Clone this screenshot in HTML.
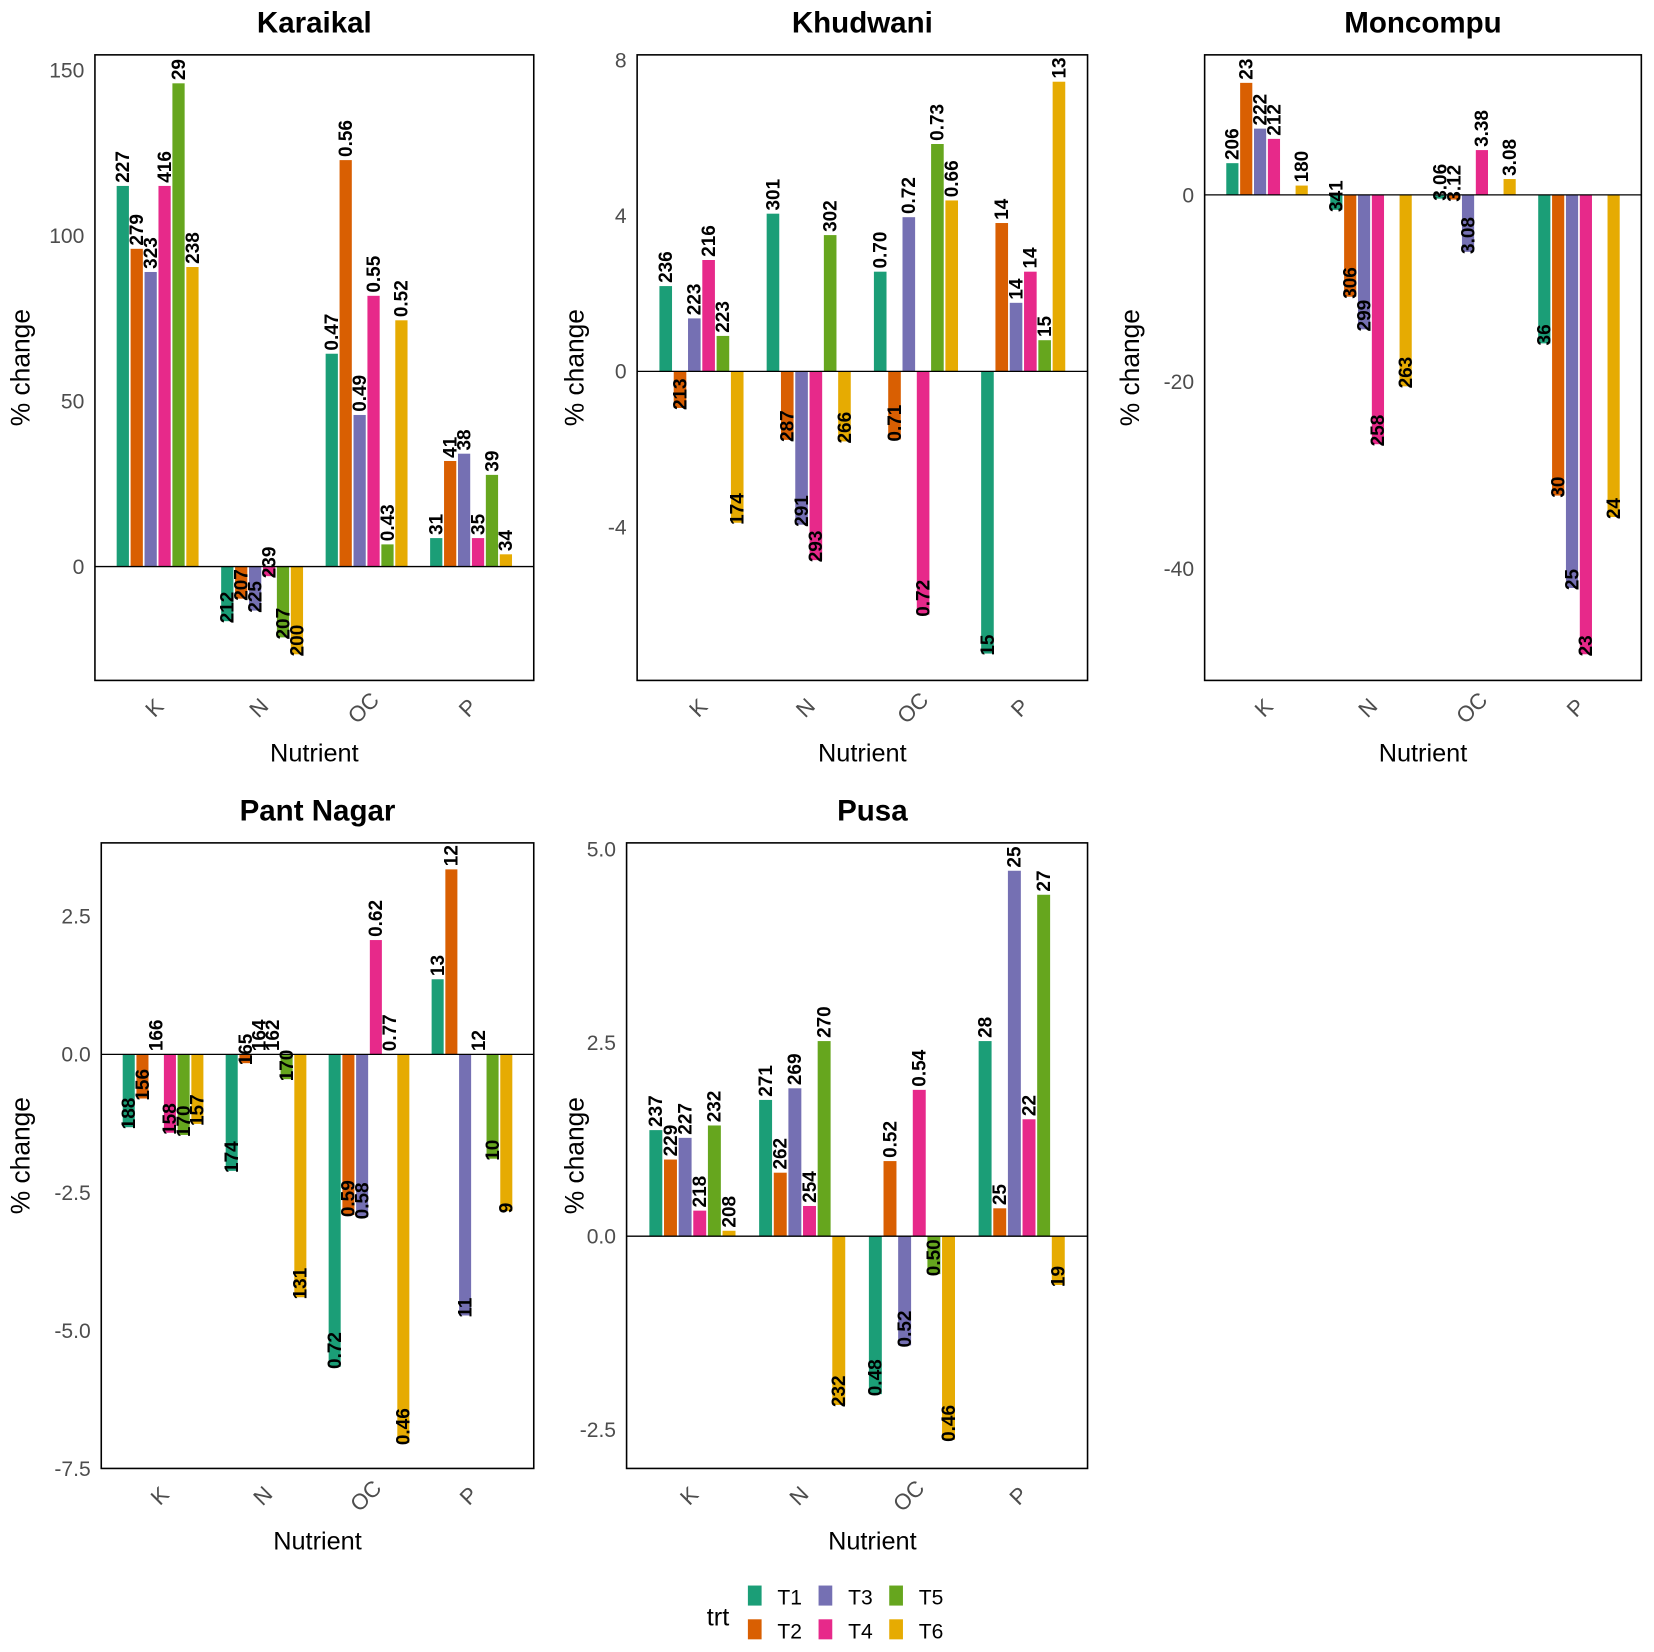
<!DOCTYPE html>
<html><head><meta charset="utf-8"><style>
html,body{margin:0;padding:0;background:#fff;}
svg{display:block;}
text{font-family:"Liberation Sans",Arial,sans-serif;}
</style></head><body>
<svg id="fig" width="1654" height="1652" viewBox="0 0 1568 1566" preserveAspectRatio="none" xmlns="http://www.w3.org/2000/svg"></svg>
<script>
const categories = ["K","N","OC","P"];
const treatments = ["T1","T2","T3","T4","T5","T6"];
const colors = ["#1B9E77","#D95F02","#7570B3","#E7298A","#66A61E","#E6AB02"];

const karaikalValues = [[115,96,89,115,146,90.5],[-16.5,-9.7,-13.3,-2.9,-21.4,-26.5],[64.3,122.8,45.8,81.8,6.7,74.4],[8.6,31.9,34.1,8.6,27.7,3.7]];
const karaikalLabels = [["227","279","323","416","29","238"],["212","207","225","239","207","200"],["0.47","0.56","0.49","0.55","0.43","0.52"],["31","41","38","35","39","34"]];
const karaikalTicks = [0,50,100,150];

const khudwaniValues = [[2.19,-0.94,1.36,2.86,0.91,-3.89],[4.05,-1.76,-3.94,-4.85,3.5,-1.8],[2.56,-1.75,3.96,-6.25,5.84,4.39],[-7.25,3.81,1.76,2.56,0.8,7.44]];
const khudwaniLabels = [["236","213","223","216","223","174"],["301","287","291","293","302","266"],["0.70","0.71","0.72","0.72","0.73","0.66"],["15","14","14","14","15","13"]];
const khudwaniTicks = [-4,0,4,8];

const moncompuValues = [[3.4,12.0,7.1,6.0,null,1.0],[-1.6,-10.9,-14.4,-26.7,null,-20.5],[-0.4,-0.5,-6.1,4.8,null,1.7],[-15.9,-32.2,-42.1,-49.2,null,-34.5]];
const moncompuLabels = [["206","23","222","212","","180"],["341","306","299","258","","263"],["3.06","3.12","3.08","3.38","","3.08"],["36","30","25","23","","24"]];
const moncompuTicks = [-40,-20,0];

const pantValues = [[-1.32,-0.80,0,-1.42,-1.46,-1.26],[-2.11,-0.16,0,0,-0.45,-4.4],[-5.66,-2.91,-2.95,2.07,0,-7.04],[1.36,3.35,-4.73,0,-1.89,-2.84]];
const pantLabels = [["188","156","166","158","170","157"],["174","165","164","162","170","131"],["0.72","0.59","0.58","0.62","0.77","0.46"],["13","12","11","12","10","9"]];
const pantTicks = [-7.5,-5.0,-2.5,0.0,2.5];
const pantTickText = ["-7.5","-5.0","-2.5","0.0","2.5"];

const pusaValues = [[1.37,0.99,1.27,0.33,1.43,0.07],[1.76,0.82,1.91,0.39,2.52,-2.18],[-2.04,0.97,-1.41,1.89,-0.49,-2.63],[2.52,0.36,4.72,1.51,4.41,-0.63]];
const pusaLabels = [["237","229","227","218","232","208"],["271","262","269","254","270","232"],["0.48","0.52","0.52","0.54","0.50","0.46"],["28","25","25","22","27","19"]];
const pusaTicks = [-2.5,0.0,2.5,5.0];
const pusaTickText = ["-2.5","0.0","2.5","5.0"];

const NS="http://www.w3.org/2000/svg";
const svg=document.getElementById('fig');
function mk(tag,attrs,parent){const e=document.createElementNS(NS,tag);for(const k in attrs)e.setAttribute(k,attrs[k]);(parent||svg).appendChild(e);return e;}

function panel(cfg){
  const g=mk('g',{});
  
  
  const {x0,x1,y0,y1,ymin,ymax}=cfg;
  const yS=v=>y1-(v-ymin)/(ymax-ymin)*(y1-y0);
  const step=(x1-x0)/4.2;
  const xC=i=>x0+step*(0.6+i);
  const bw=step*0.8/6;
  const t=mk('text',{x:cfg.titleX||(x0+x1)/2,y:y0-21,'text-anchor':'middle','font-size':28,'font-weight':'bold',fill:'#000'},g);
  t.textContent=cfg.title;
  
  
  cfg.ticks.forEach((v,i)=>{
    const tt=mk('text',{x:x0-10,y:yS(v)+7,'text-anchor':'end','font-size':20,fill:'#4d4d4d'},g);
    tt.textContent=cfg.tickText?cfg.tickText[i]:String(v);
    
    
  });
  cfg.values.forEach((row,ci)=>{
    row.forEach((v,ti)=>{
      if(v===null)return;
      const bx=xC(ci)-step*0.4+ti*bw;
      const yt=yS(Math.max(v,0)), yb=yS(Math.min(v,0));
      const r=mk('rect',{x:bx+0.8,y:yt,width:bw-1.6,height:Math.max(yb-yt,0),fill:colors[ti]},g);
      
      
      const lab=cfg.labels[ci][ti];
      if(lab){
        const ly=yS(v)-(v>=0?3:-2);
        const cx=bx+bw/2+6;
        const tx=mk('text',{x:cx,y:ly,transform:`rotate(-90 ${cx} ${ly})`,'font-size':18,'font-weight':'bold',fill:'#000','text-anchor':'start'},g);
        tx.textContent=lab;
        
        
      }
    });
  });
  const z=mk('line',{x1:x0,x2:x1,y1:yS(0),y2:yS(0),stroke:'#000','stroke-width':1.2},g);
  
  
  const fr=mk('rect',{x:x0,y:y0,width:x1-x0,height:y1-y0,fill:'none',stroke:'#000','stroke-width':1.5},g);
  
  
  categories.forEach((c,i)=>{
    const cx=xC(i)+2, cy=y1+31;
    const tx=mk('text',{x:cx,y:cy,transform:`rotate(-45 ${cx} ${cy})`,'text-anchor':'middle','font-size':21,fill:'#4d4d4d'},g);
    tx.textContent=c;
    
    
  });
  const xt=mk('text',{x:cfg.titleX||(x0+x1)/2,y:y1+77,'text-anchor':'middle','font-size':24,fill:'#000'},g);
  xt.textContent='Nutrient';
  
  
  const ax=cfg.ytx, ay=(y0+y1)/2;
  const yt=mk('text',{x:ax,y:ay,transform:`rotate(-90 ${ax} ${ay})`,'text-anchor':'middle','font-size':25,fill:'#000'},g);
  yt.textContent='% change';
  
  
}

panel({id:'karaikal',title:'Karaikal',x0:90,x1:506,y0:52,y1:645,ymin:-34.4,ymax:154.6,ticks:karaikalTicks,values:karaikalValues,labels:karaikalLabels,ytx:28});
panel({id:'khudwani',title:'Khudwani',x0:604,x1:1031,y0:52,y1:645,ymin:-7.94,ymax:8.13,ticks:khudwaniTicks,values:khudwaniValues,labels:khudwaniLabels,ytx:553});
panel({id:'moncompu',title:'Moncompu',x0:1142,x1:1556,y0:52,y1:645,ymin:-52.0,ymax:15.0,ticks:moncompuTicks,values:moncompuValues,labels:moncompuLabels,ytx:1080});
panel({id:'pant-nagar',title:'Pant Nagar',x0:96,x1:506,y0:799,y1:1392,ymin:-7.5,ymax:3.83,ticks:pantTicks,tickText:pantTickText,values:pantValues,labels:pantLabels,ytx:28});
panel({id:'pusa',title:'Pusa',titleX:827,x0:594,x1:1031,y0:799,y1:1392,ymin:-3.0,ymax:5.08,ticks:pusaTicks,tickText:pusaTickText,values:pusaValues,labels:pusaLabels,ytx:553});

const lg=mk('g',{});


const lt=mk('text',{x:670,y:1541,'font-size':24,fill:'#000'},lg);
lt.textContent='trt';


treatments.forEach((t,i)=>{
  const col=Math.floor(i/2), row=i%2;
  const kx=709+col*67, ky=1503+row*32;
  const r=mk('rect',{x:kx,y:ky,width:13,height:19,fill:colors[i]},lg);
  
  
  const tx=mk('text',{x:kx+28,y:ky+18,'font-size':20,fill:'#000'},lg);
  tx.textContent=t;
  
  
});
</script>
</body></html>
